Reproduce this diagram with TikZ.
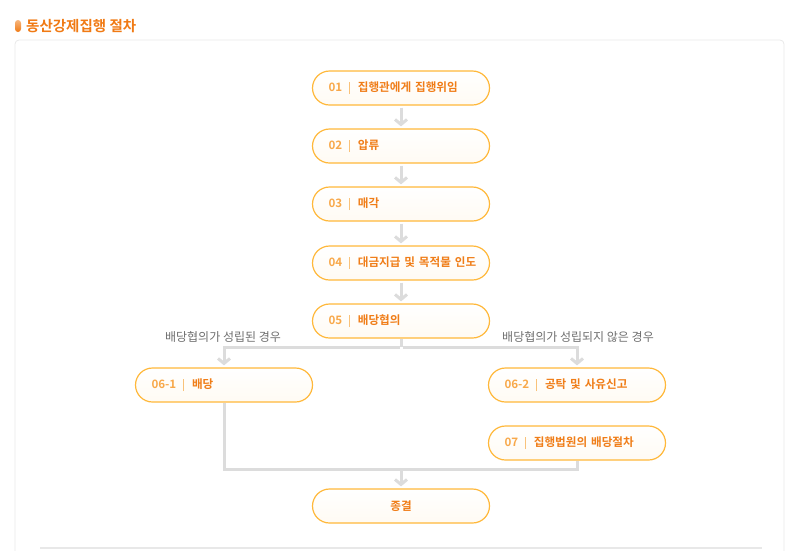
\documentclass[tikz,border=0pt]{standalone}
\usepackage{fontspec}
\setmainfont{Noto Sans CJK KR}
\newfontfamily\krbold{Noto Sans CJK KR Bold}
\usetikzlibrary{arrows.meta}
\definecolor{titlec}{HTML}{F07A14}
\definecolor{numc}{HTML}{F8A84A}
\definecolor{labc}{HTML}{F07D18}
\definecolor{sepc}{HTML}{F9C27A}
\definecolor{boxc}{HTML}{FFB83A}
\definecolor{linec}{HTML}{DCDCDC}
\definecolor{panelc}{HTML}{E8E8E8}
\definecolor{notec}{HTML}{6E6E6E}
\hbadness=10000 \hfuzz=200pt
\newcommand\steptext[2]{\mbox{\textcolor{numc}{#1}\hspace{7pt}\textcolor{sepc}{\rule[-2.5pt]{0.7pt}{12pt}}\hspace{8pt}\textcolor{labc}{#2}}}
\tikzset{
  stepbox/.style={draw=boxc, line width=1.2pt, rounded corners=17pt,
    top color=white, bottom color=boxc!6,
    minimum width=177pt, minimum height=34pt, inner xsep=16pt,
    text width=145pt, align=left, font=\krbold\fontsize{11.6}{13}\selectfont},
  endbox/.style={stepbox, align=center, text=labc},
  flow/.style={draw=linec, line width=3pt},
  conn/.style={flow, -{Straight Barb[length=5pt,width=12pt]}},
  note/.style={text=notec, font=\fontsize{12}{14}\selectfont},
}
\begin{document}
\begin{tikzpicture}[x=1pt,y=-1pt]
\useasboundingbox (0,0) rectangle (799,550);
% title
\shade[top color=titlec!55, bottom color=titlec, rounded corners=3pt] (15,20) rectangle (21,32);
\node[anchor=west, text=titlec, font=\krbold\fontsize{14.5}{16}\selectfont, inner sep=0pt] (title) at (26,26) {동산강제집행 절차};
% panel
\draw[panelc, line width=0.8pt, rounded corners=4pt] (15,580) -- (15,40) -- (784,40) -- (784,580);
\draw[panelc, line width=2pt] (40,548) -- (762,548);
% steps
\node[stepbox] (s1) at (401,88) {\steptext{01}{집행관에게 집행위임}};
\node[stepbox] (s2) at (401,146) {\steptext{02}{압류}};
\node[stepbox] (s3) at (401,204) {\steptext{03}{매각}};
\node[stepbox] (s4) at (401,263) {\steptext{04}{대금지급 및 목적물 인도}};
\node[stepbox] (s5) at (401,321) {\steptext{05}{배당협의}};
\node[stepbox] (s61) at (224,385) {\steptext{06-1}{배당}};
\node[stepbox] (s62) at (577,385) {\steptext{06-2}{공탁 및 사유신고}};
\node[stepbox] (s7) at (577,443) {\steptext{07}{집행법원의 배당절차}};
\node[endbox] (end) at (401,506) {종결};
% notes
\node[note] (n1) at (223,337) {배당협의가 성립된 경우};
\node[note] (n2) at (578,337) {배당협의가 성립되지 않은 경우};
% connectors
\draw[conn, shorten <=2pt, shorten >=2pt] (s1) -- (s2);
\draw[conn, shorten <=2pt, shorten >=2pt] (s2) -- (s3);
\draw[conn, shorten <=2pt, shorten >=2pt] (s3) -- (s4);
\draw[conn, shorten <=2pt, shorten >=2pt] (s4) -- (s5);
\coordinate (br) at (401,347);
\draw[flow] (s5.south) -- (br);
\draw[conn, shorten >=2pt] ([xshift=-1.5pt]br) -| (s61.north);
\draw[conn, shorten >=2pt] ([xshift=1.5pt]br) -| (s62.north);
\coordinate (m7) at (577,469);
\coordinate (mg) at (401,469);
\draw[flow] (s61.south) |- (m7) -- (s7.south);
\draw[conn, shorten >=2pt] (mg) -- (end);
\end{tikzpicture}
\end{document}
